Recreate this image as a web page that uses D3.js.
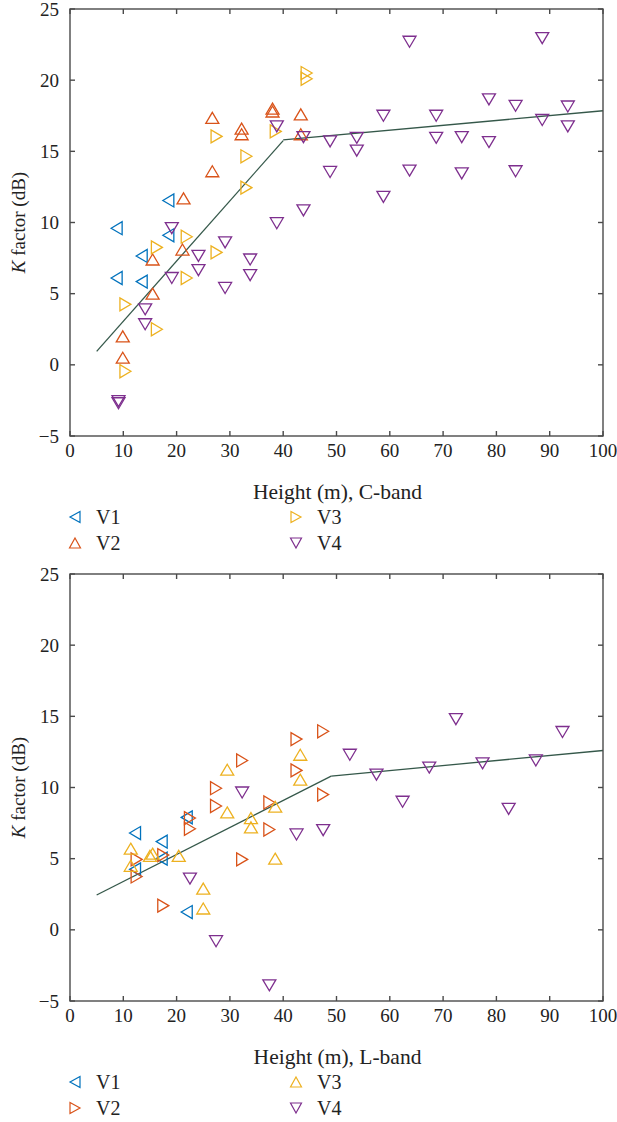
<!DOCTYPE html>
<html>
<head>
<meta charset="utf-8">
<script src="https://cdn.jsdelivr.net/npm/d3@7"></script>
<style>
  body { margin: 0; background: #fff; }
</style>
</head>
<body>
<div class="grafico"></div>
<script>
// tick values shared by both panels
var xTicks = [0, 10, 20, 30, 40, 50, 60, 70, 80, 90, 100];
var yTicks = [-5, 0, 5, 10, 15, 20, 25];

// C-band, [height (m), K factor (dB)]
var cV1 = [[8.75, 9.6], [8.75, 6.1], [13.45, 7.65], [13.45, 5.85], [18.45, 11.55], [18.45, 9.1]];
var cV2 = [[9.9, 0.5], [9.9, 2.0], [15.5, 5.0], [15.5, 7.4], [21.1, 8.1], [21.3, 11.7], [26.7, 13.6],
  [26.7, 17.35], [32.2, 16.2], [32.2, 16.6], [38.0, 17.8], [38.0, 18.0], [43.3, 16.2], [43.3, 17.6]];
var cV3 = [[10.4, -0.45], [10.4, 4.25], [16.3, 2.5], [16.3, 8.25], [21.9, 6.1], [21.9, 9.0], [27.5, 7.9],
  [27.5, 16.05], [33.1, 12.45], [33.1, 14.65], [38.6, 16.4], [44.4, 20.1], [44.4, 20.5]];
var cV4 = [[9.1, -2.55], [9.1, -2.7], [14.1, 2.85], [14.1, 3.9], [19.1, 6.1], [19.1, 9.6], [24.1, 6.65],
  [24.1, 7.65], [29.1, 5.4], [29.1, 8.6], [33.8, 6.3], [33.8, 7.4], [38.8, 9.95], [38.8, 16.75],
  [43.8, 10.85], [43.8, 16.0], [48.8, 13.55], [48.8, 15.7], [53.8, 15.05], [53.8, 15.95], [58.8, 11.8],
  [58.8, 17.5], [63.7, 13.65], [63.7, 22.7], [68.7, 15.95], [68.7, 17.5], [73.5, 13.45], [73.5, 16.0],
  [78.6, 15.65], [78.6, 18.65], [83.6, 13.6], [83.6, 18.2], [88.6, 17.2], [88.6, 22.95], [93.4, 16.75],
  [93.4, 18.15]];
var cFit1 = [[5, 0.95], [40, 15.75]];
var cFit2 = [[40, 15.8], [100, 17.85]];

// L-band
var lV1 = [[12.2, 6.8], [12.2, 4.25], [17.2, 6.2], [17.2, 5.0], [21.9, 7.9], [21.9, 1.25]];
var lV2 = [[12.5, 3.75], [12.5, 4.95], [17.5, 1.7], [17.5, 5.25], [22.5, 7.1], [22.5, 7.85], [27.4, 8.7],
  [27.4, 9.95], [32.3, 4.95], [32.3, 11.9], [37.4, 7.05], [37.4, 8.95], [42.5, 11.2], [42.5, 13.4],
  [47.5, 9.5], [47.5, 13.95]];
var lV3 = [[11.4, 4.5], [11.4, 5.7], [15.0, 5.2], [15.5, 5.35], [20.4, 5.2], [25.0, 1.5], [25.0, 2.9],
  [29.5, 8.25], [29.5, 11.25], [33.95, 7.2], [33.95, 7.85], [38.5, 5.0], [38.5, 8.65], [43.2, 10.55],
  [43.2, 12.3]];
var lV4 = [[22.5, 3.6], [27.4, -0.8], [32.3, 9.65], [37.4, -3.9], [42.5, 6.7], [47.5, 7.0], [52.5, 12.3],
  [57.5, 10.9], [62.4, 9.0], [67.4, 11.4], [72.4, 14.8], [77.4, 11.7], [82.3, 8.5], [87.4, 11.9],
  [92.4, 13.9]];
var lFit1 = [[5, 2.45], [49, 10.8]];
var lFit2 = [[49, 10.8], [100, 12.6]];

var width = 617, height = 1122;
var font = "'Liberation Serif', 'DejaVu Serif', serif";
var axisColor = "#4a4a4a", fitColor = "#35584a", textColor = "#222";
var colors = { V1: "#0072BD", V2: "#D95319", V3: "#EDB120", V4: "#7E2F8E" };

// triangle pointing in a direction, centred on its bounding box
function tri(dir, w, h) {
  var a = w / 2, b = h / 2, p;
  if (dir == "up") p = [[0, -b], [a, b], [-a, b]];
  if (dir == "down") p = [[0, b], [a, -b], [-a, -b]];
  if (dir == "left") p = [[-b, 0], [b, -a], [b, a]];
  if (dir == "right") p = [[b, 0], [-b, -a], [-b, a]];
  return "M" + p.join("L") + "Z";
}

var svg = d3.select(".grafico").append("svg")
  .attr("width", width)
  .attr("height", height)
  .attr("font-family", font)
  .attr("fill", textColor);

function drawPanel(top, xTitle, series, fits) {
  var m = { left: 70, right: 603, top: top, bottom: top + 427 };
  var x = d3.scaleLinear().domain([0, 100]).range([m.left, m.right]);
  var y = d3.scaleLinear().domain([-5, 25]).range([m.bottom, m.top]);
  var g = svg.append("g");

  // fitted lines
  var line = d3.line().x(d => x(d[0])).y(d => y(d[1]));
  fits.forEach(f => {
    g.append("path").attr("d", line(f))
      .attr("fill", "none").attr("stroke", fitColor).attr("stroke-width", 1.3);
  });

  // markers
  series.forEach(s => {
    g.append("g").selectAll("path")
      .data(s.data)
      .enter().append("path")
      .attr("transform", d => "translate(" + x(d[0]) + "," + y(d[1]) + ")")
      .attr("d", tri(s.dir, 13, 11))
      .attr("fill", "none")
      .attr("stroke", colors[s.name])
      .attr("stroke-width", 1.3);
  });

  // axes, ticks inward on all four sides
  var ax = g.append("g").attr("stroke", axisColor).attr("stroke-width", 1.4);
  ax.append("rect").attr("x", m.left).attr("y", m.top)
    .attr("width", m.right - m.left).attr("height", m.bottom - m.top).attr("fill", "none");
  xTicks.forEach(t => {
    ax.append("line").attr("x1", x(t)).attr("x2", x(t)).attr("y1", m.bottom).attr("y2", m.bottom - 5);
    ax.append("line").attr("x1", x(t)).attr("x2", x(t)).attr("y1", m.top).attr("y2", m.top + 5);
  });
  yTicks.forEach(t => {
    ax.append("line").attr("x1", m.left).attr("x2", m.left + 5).attr("y1", y(t)).attr("y2", y(t));
    ax.append("line").attr("x1", m.right).attr("x2", m.right - 5).attr("y1", y(t)).attr("y2", y(t));
  });

  g.selectAll(".xt").data(xTicks).enter().append("text")
    .attr("x", d => x(d)).attr("y", m.bottom + 21)
    .attr("text-anchor", "middle").attr("font-size", 19)
    .text(d => d);
  g.selectAll(".yt").data(yTicks).enter().append("text")
    .attr("x", m.left - 11).attr("y", d => y(d)).attr("dy", "0.35em")
    .attr("text-anchor", "end").attr("font-size", 19)
    .text(d => d < 0 ? "\u2212" + Math.abs(d) : d);

  g.append("text").attr("x", (m.left + m.right) / 2 + 1).attr("y", m.bottom + 63)
    .attr("text-anchor", "middle").attr("font-size", 21.5).text(xTitle);

  var yl = g.append("text")
    .attr("transform", "translate(25," + (m.top + m.bottom) / 2 + ") rotate(-90)")
    .attr("text-anchor", "middle").attr("font-size", 19);
  yl.append("tspan").attr("font-style", "italic").text("K");
  yl.append("tspan").text(" factor (dB)");

  // legend, two columns
  series.forEach((s, i) => {
    var lx = i < 2 ? 75 : 296, ly = m.bottom + 81 + (i % 2) * 26;
    g.append("path").attr("transform", "translate(" + lx + "," + ly + ")")
      .attr("d", tri(s.dir, 11, 10))
      .attr("fill", "none").attr("stroke", colors[s.name]).attr("stroke-width", 1.2);
    g.append("text").attr("x", lx + 21).attr("y", ly).attr("dy", "0.35em")
      .attr("font-size", 20).text(s.name);
  });
}

drawPanel(9, "Height (m), C-band", [
  { name: "V1", dir: "left", data: cV1 },
  { name: "V2", dir: "up", data: cV2 },
  { name: "V3", dir: "right", data: cV3 },
  { name: "V4", dir: "down", data: cV4 }
], [cFit1, cFit2]);

drawPanel(574, "Height (m), L-band", [
  { name: "V1", dir: "left", data: lV1 },
  { name: "V2", dir: "right", data: lV2 },
  { name: "V3", dir: "up", data: lV3 },
  { name: "V4", dir: "down", data: lV4 }
], [lFit1, lFit2]);
</script>
</body>
</html>
